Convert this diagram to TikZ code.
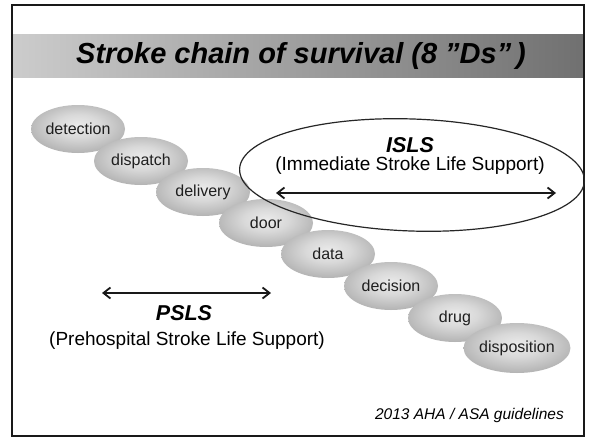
\documentclass[tikz,border=0pt]{standalone}
\usepackage{fontspec}
\setmainfont{Liberation Sans}
\usetikzlibrary{shapes.geometric,arrows.meta}
\pgfdeclareradialshading{eggshade}{\pgfpoint{0bp}{4bp}}{color(0bp)=(black!8); color(12bp)=(black!15); color(36bp)=(black!38); color(50bp)=(black!55); color(70bp)=(black!55)}
\tikzset{
  dnode/.style={ellipse, shading=eggshade, minimum width=94, minimum height=48, inner sep=0pt,
    font=\fontsize{16}{18}\selectfont, text=black!88},
  biarrow/.style={{Straight Barb[length=7pt,width=11pt]}-{Straight Barb[length=7pt,width=11pt]}, line width=1.8pt, black!90},
  bigtxt/.style={inner sep=0pt, font=\fontsize{21.5}{24}\selectfont\bfseries\itshape},
  subtxt/.style={inner sep=0pt, font=\fontsize{19}{22}\selectfont}
}
\begin{document}
\begin{tikzpicture}[x=1pt,y=-1pt]
\useasboundingbox (0,0) rectangle (589,439);
\fill[white] (0,0) rectangle (589,439);
% title band
\shade[left color=black!20, middle color=black!22, right color=black!56] (12.5,34) rectangle (584,77);
\draw[line width=1.5pt, black!90] (12,5) rectangle (584,436);
\node[font=\fontsize{29}{32}\selectfont\bfseries\itshape] (title) at (301,56) {Stroke chain of survival (8 ”Ds”\,)};
% chain
\node[dnode] (detection) at (78,129) {detection};
\node[dnode] (dispatch) at (141,161) {dispatch};
\node[dnode] (delivery) at (203,192) {delivery};
\node[dnode] (door) at (266,223) {door};
\node[dnode] (data) at (328,254) {data};
\node[dnode] (decision) at (391,286) {decision};
\node[dnode] (drug) at (455,318) {drug};
\node[dnode, minimum width=96, minimum height=50] (disposition) at (517,348) {disposition};
% ISLS
\node[draw, ellipse, line width=1.2pt, black!85, minimum width=345, minimum height=112, rotate=-2] (isls) at (412,175) {};
\node[bigtxt] (islst) at (410,145) {ISLS};
\node[subtxt] (islss) at (410,166) {(Immediate Stroke Life Support)};
\coordinate (ia) at (276,193);
\coordinate (ib) at (556,193);
\draw[biarrow] (ia) -- (ib);
% PSLS
\coordinate (pa) at (102,293);
\coordinate (pb) at (271,293);
\draw[biarrow] (pa) -- (pb);
\node[bigtxt] (pslst) at (184,313) {PSLS};
\node[subtxt] (pslss) at (187,341) {(Prehospital Stroke Life Support)};
% footnote
\node[anchor=east, inner sep=0pt, font=\fontsize{15.5}{18}\selectfont\itshape] (foot) at (564,415) {2013 AHA / ASA guidelines};
\end{tikzpicture}
\end{document}
